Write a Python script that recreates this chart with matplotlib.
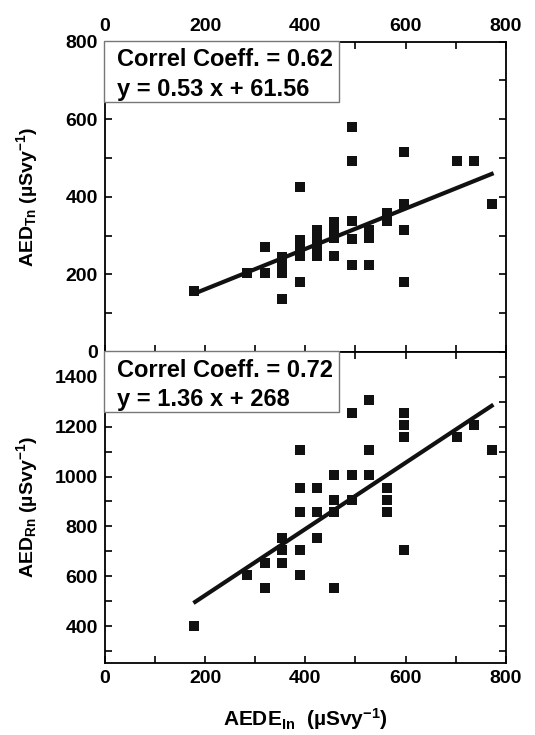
import matplotlib
matplotlib.use('Agg')
import matplotlib.pyplot as plt
from matplotlib.patches import Rectangle
from matplotlib.ticker import MultipleLocator

plt.rcParams['font.family'] = ['Liberation Sans', 'DejaVu Sans']
plt.rcParams['font.weight'] = 'bold'
plt.rcParams['axes.labelweight'] = 'bold'
plt.rcParams['font.size'] = 14
plt.rcParams['mathtext.fontset'] = 'custom'
plt.rcParams['mathtext.rm'] = 'Liberation Sans:bold'
plt.rcParams['mathtext.bf'] = 'Liberation Sans:bold'
plt.rcParams['mathtext.it'] = 'Liberation Sans:bold'

# AEDE indoor (x) vs AED thoron (top panel)
tn_x = [178, 284, 319, 319, 354, 354, 354, 354,
        389, 389, 389, 389, 389, 424, 424, 424, 424,
        458, 458, 458, 458, 494, 494, 494, 494, 494,
        528, 528, 528, 563, 563, 597, 597, 597, 597,
        702, 737, 772]
tn_y = [157, 204, 270, 204, 245, 225, 203, 136,
        290, 268, 247, 426, 180, 314, 291, 269, 247,
        336, 315, 293, 247, 580, 492, 337, 292, 225,
        314, 293, 225, 358, 338, 515, 381, 315, 180,
        492, 492, 381]
tn_fit_x = [183, 772]
tn_fit_y = [153, 459]

# AEDE indoor (x) vs AED radon (bottom panel)
rn_x = [178, 284, 319, 319, 354, 354, 354,
        389, 389, 389, 389, 389, 424, 424, 424,
        458, 458, 458, 458, 494, 494, 494,
        528, 528, 528, 563, 563, 563,
        597, 597, 597, 597, 702, 737, 772]
rn_y = [401, 605, 655, 551, 755, 704, 655,
        1106, 956, 856, 704, 605, 956, 856, 755,
        1006, 905, 856, 551, 1257, 1006, 905,
        1306, 1106, 1006, 956, 905, 856,
        1257, 1206, 1157, 704, 1157, 1206, 1106]
rn_fit_x = [180, 772]
rn_fit_y = [497, 1284]

tn_text = ['Correl Coeff. = 0.62', 'y = 0.53 x + 61.56']
rn_text = ['Correl Coeff. = 0.72', 'y = 1.36 x + 268']

fig = plt.figure(figsize=(5.35, 7.35), dpi=100)
ax1 = fig.add_axes([0.1963, 0.5211, 0.7489, 0.4222])
ax2 = fig.add_axes([0.1963, 0.0984, 0.7489, 0.4227])

for ax, xs, ys, fx, fy, txt in [(ax1, tn_x, tn_y, tn_fit_x, tn_fit_y, tn_text),
                                 (ax2, rn_x, rn_y, rn_fit_x, rn_fit_y, rn_text)]:
    ax.plot(xs, ys, 's', color='#111111', markersize=6.8, markeredgewidth=0)
    ax.plot(fx, fy, '-', color='#111111', linewidth=3)
    ax.set_xlim(0, 800)
    ax.xaxis.set_major_locator(MultipleLocator(200))
    ax.xaxis.set_minor_locator(MultipleLocator(100))
    ax.yaxis.set_minor_locator(MultipleLocator(100))
    ax.tick_params(which='both', direction='in', length=5, width=1.2,
                   top=True, right=True, pad=5)
    for s in ax.spines.values():
        s.set_linewidth(1.3)
    ax.add_patch(Rectangle((-0.002, 0.807), 0.587, 0.195, transform=ax.transAxes,
                           facecolor='white', edgecolor='#777777', linewidth=1,
                           zorder=5, clip_on=False))
    ax.text(0.029, 0.921, txt[0], transform=ax.transAxes, va='baseline', ha='left',
            fontsize=17, zorder=6)
    ax.text(0.029, 0.826, txt[1], transform=ax.transAxes, va='baseline', ha='left',
            fontsize=17, zorder=6)

ax1.set_ylim(0, 800)
ax1.yaxis.set_major_locator(MultipleLocator(200))
ax1.tick_params(axis='x', labeltop=True, labelbottom=False)
ax1.set_ylabel(r'AED$_{\mathbf{Tn}}$ (µSvy$^{\mathbf{-1}}$)', fontsize=14)
ax1.yaxis.set_label_coords(-0.163, 0.5)

ax2.set_ylim(253, 1500)
ax2.set_yticks([400, 600, 800, 1000, 1200, 1400])
ax2.set_ylabel(r'AED$_{\mathbf{Rn}}$ (µSvy$^{\mathbf{-1}}$)', fontsize=14)
ax2.yaxis.set_label_coords(-0.163, 0.5)
ax2.set_xlabel(r'AEDE$_{\mathbf{In}}$  (µSvy$^{\mathbf{-1}}$)', fontsize=15, labelpad=14)

fig.savefig('out.png', dpi=100)
